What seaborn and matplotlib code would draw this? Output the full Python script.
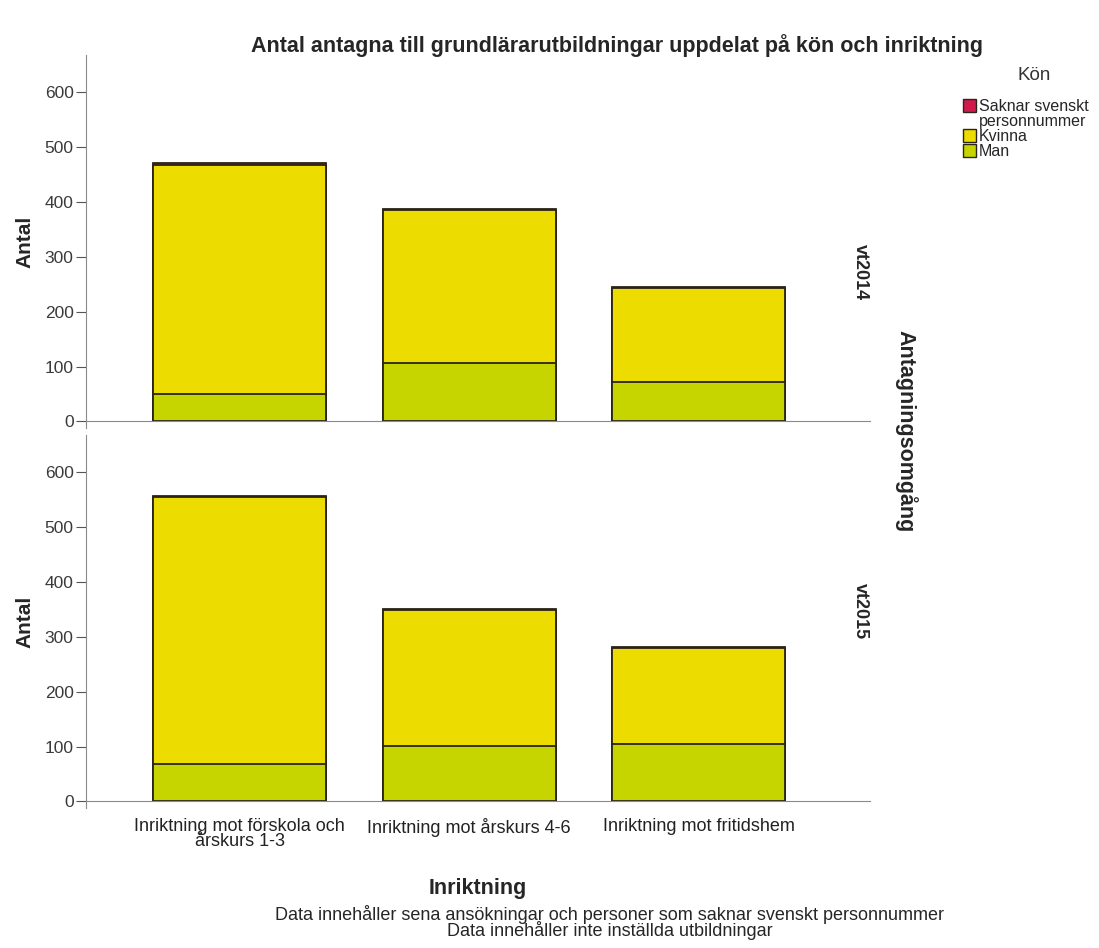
import matplotlib
matplotlib.use('Agg')
import matplotlib.pyplot as plt
import seaborn as sns
import pandas as pd
from matplotlib.patches import Patch

# data
inriktningar = ['Inriktning mot förskola och\nårskurs 1-3',
                'Inriktning mot årskurs 4-6',
                'Inriktning mot fritidshem']
omgangar = ['vt2014', 'vt2015']
man = {'vt2014': [50, 106, 71], 'vt2015': [69, 101, 105]}
kvinna = {'vt2014': [418, 279, 173], 'vt2015': [485, 248, 175]}
saknar = {'vt2014': [3, 2, 1], 'vt2015': [3, 2, 2]}

col_man = '#c6d400'
col_kvinna = '#ecdc00'
col_saknar = '#d01a4c'
edge = '#2b2418'

sns.set_style('white')
plt.rcParams['font.family'] = ['Liberation Sans', 'DejaVu Sans']

fig = plt.figure(figsize=(10.99, 9.48), dpi=100)
ax_top = fig.add_axes([0.0783, 0.5485, 0.7133, 0.3935])
ax_bot = fig.add_axes([0.0783, 0.1477, 0.7133, 0.3935])

for ax, omg in zip([ax_top, ax_bot], omgangar):
    df = pd.DataFrame({
        'Inriktning': inriktningar,
        'Man': man[omg],
        'Kvinna': kvinna[omg],
        'Saknar': saknar[omg],
    })
    df['mk'] = df['Man'] + df['Kvinna']
    df['total'] = df['mk'] + df['Saknar']
    # draw cumulative totals, largest first, so the segments stack
    for col, color in [('total', col_saknar), ('mk', col_kvinna), ('Man', col_man)]:
        sns.barplot(data=df, x='Inriktning', y=col, order=inriktningar, color=color,
                    width=0.754, edgecolor=edge, linewidth=1.3, saturation=1, ax=ax)
    ax.set_xlim(-0.669, 2.747)
    ax.set_ylim(-12, 668)
    ax.set_yticks([0, 100, 200, 300, 400, 500, 600])
    ax.set_ylabel('Antal', fontsize=15, fontweight='bold', labelpad=7)
    ax.set_xlabel('')
    for s in ['top', 'right']:
        ax.spines[s].set_visible(False)
    ax.spines['left'].set_color('#8a8a8a')
    ax.spines['bottom'].set_color('#8a8a8a')
    ax.spines['bottom'].set_position(('data', 0))
    ax.tick_params(axis='y', direction='out', length=7.5, color='#555555',
                   labelsize=12.5, labelcolor='#3a3a3a', left=True, pad=1.5)
    ax.tick_params(axis='x', length=0, labelsize=13, labelcolor='#222222', pad=12)

ax_top.set_xticklabels([])
for lbl in ax_bot.get_xticklabels():
    lbl.set_linespacing(0.82)
ax_bot.set_xlabel('Inriktning', fontsize=15.5, fontweight='bold', labelpad=20)

fig.text(0.5615, 0.9525, 'Antal antagna till grundlärarutbildningar uppdelat på kön och inriktning',
         ha='center', va='center', fontsize=15.5, fontweight='bold')
fig.text(0.783, 0.713, 'vt2014', rotation=-90, ha='center', va='center',
         fontsize=13, fontweight='bold')
fig.text(0.783, 0.355, 'vt2015', rotation=-90, ha='center', va='center',
         fontsize=13, fontweight='bold')
fig.text(0.824, 0.545, 'Antagningsomgång', rotation=-90, ha='center', va='center',
         fontsize=15.5, fontweight='bold')
fig.text(0.555, 1 - 922 / 948,
         'Data innehåller sena ansökningar och personer som saknar svenskt personnummer\n'
         'Data innehåller inte inställda utbildningar',
         ha='center', va='center', fontsize=13, linespacing=0.8)

# legend title placed separately to get the gap above the entries
fig.text(1034 / 1099, 1 - 75 / 948, 'Kön', ha='center', va='center',
         fontsize=13.5, color='#333333')
handles = [Patch(facecolor=col_saknar, edgecolor=edge),
           Patch(facecolor='none', edgecolor='none'),
           Patch(facecolor=col_kvinna, edgecolor=edge),
           Patch(facecolor=col_man, edgecolor=edge)]
labels = ['Saknar svenskt', 'personnummer', 'Kvinna', 'Man']
fig.legend(handles=handles, labels=labels, loc='upper left',
           bbox_to_anchor=(0.876, 1 - 99 / 948), frameon=False, fontsize=11.5,
           handlelength=0.85, handleheight=0.85,
           handletextpad=0.15, labelspacing=0.0, borderaxespad=0, borderpad=0)

fig.savefig('out.png', dpi=100)
